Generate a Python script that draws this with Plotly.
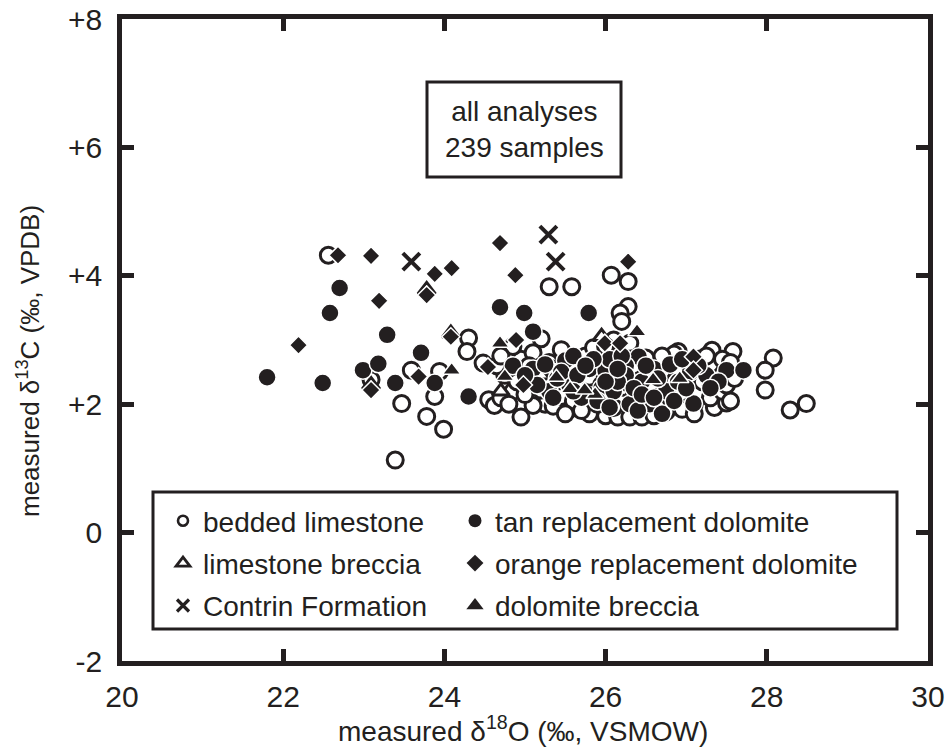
import plotly.graph_objects as go

# ---------------- data ----------------
bedded_x = [22.56, 24.30, 24.28, 24.48, 23.09, 23.59, 23.47, 23.94, 23.88, 23.78, 23.99, 23.39,
            24.55, 24.62, 24.95, 25.30, 25.58, 26.07, 26.28, 26.28, 26.18, 26.20, 26.90, 27.32,
            27.58, 28.08, 27.98, 27.98, 28.29, 28.49,
            25.55, 25.80, 26.00, 26.15, 26.30, 26.45, 26.60, 26.75, 26.95, 27.10, 27.35, 27.50,
            25.25, 25.10, 25.35,
            24.70, 24.85, 25.00, 25.20, 25.45, 25.60, 25.75, 25.90, 26.05, 26.20, 26.35, 26.50,
            26.65, 26.80, 26.95, 27.15, 27.30, 27.45, 27.55, 26.10, 25.70,
            24.75, 24.90, 25.05, 25.15, 25.35, 25.50, 25.65, 25.80, 25.95, 26.10, 26.25, 26.40,
            26.55, 26.70, 26.85, 27.00, 27.20, 27.35, 27.50, 27.40, 26.00, 25.25,
            24.65, 24.95, 25.10, 25.30, 25.45, 25.60, 25.75, 25.90, 26.05, 26.20, 26.35, 26.50,
            26.60, 26.75, 27.00, 27.15, 27.30, 27.45, 26.90, 25.35, 25.85, 26.30, 26.10, 25.20,
            24.85, 26.35, 27.25, 26.85,
            24.80, 25.05, 26.70, 27.60, 27.10, 25.50, 26.00, 24.70, 27.55]
bedded_y = [4.32, 3.03, 2.82, 2.64, 2.38, 2.53, 2.01, 2.51, 2.12, 1.81, 1.61, 1.13,
            2.07, 1.98, 1.80, 3.83, 3.83, 4.01, 3.91, 3.52, 3.42, 3.29, 2.82, 2.84,
            2.82, 2.72, 2.53, 2.22, 1.91, 2.01,
            1.92, 1.85, 1.82, 1.80, 1.80, 1.80, 1.82, 1.88, 1.92, 2.00, 1.95, 2.02,
            2.00, 1.98, 1.97,
            2.10, 2.20, 2.15, 2.22, 2.12, 2.05, 2.15, 2.00, 2.10, 2.02, 2.12, 2.00,
            2.05, 2.10, 2.18, 2.15, 2.10, 2.20, 2.05, 1.95, 1.90,
            2.45, 2.35, 2.40, 2.50, 2.35, 2.45, 2.32, 2.42, 2.30, 2.45, 2.35, 2.42,
            2.30, 2.45, 2.35, 2.40, 2.35, 2.42, 2.30, 2.50, 2.55, 2.30,
            2.60, 2.70, 2.80, 2.65, 2.85, 2.60, 2.75, 2.62, 2.80, 2.65, 2.60, 2.72,
            2.55, 2.65, 2.60, 2.70, 2.62, 2.70, 2.55, 2.55, 2.88, 2.95, 3.00, 3.02,
            2.90, 2.25, 2.75, 2.78,
            2.00, 2.60, 2.75, 2.40, 1.85, 1.85, 2.90, 2.75, 2.65]

tan_x = [22.70, 22.58, 23.29, 21.80, 22.49, 23.71, 22.99, 23.18, 23.39, 23.88, 24.30,
         24.69, 24.99, 25.79, 25.10, 26.41, 27.50, 27.71, 27.09,
         25.10, 25.25, 25.50, 25.60, 25.80, 26.00, 26.25, 25.30, 25.55, 25.70, 25.95, 26.10,
         26.30, 26.45, 26.60, 26.75, 26.90, 26.25, 26.55, 25.40, 26.05, 26.80, 27.05, 27.25,
         27.40, 25.15, 25.90, 26.40, 24.85, 25.00, 26.70, 26.15,
         25.45, 25.65, 25.85, 26.00, 26.20, 26.35, 26.50, 26.65, 26.85, 27.00,
         25.75, 26.15, 26.45, 25.60, 26.95, 27.30, 25.35, 26.60, 26.05, 27.15]
tan_y = [3.81, 3.42, 3.08, 2.42, 2.33, 2.80, 2.53, 2.63, 2.33, 2.33, 2.12,
         3.51, 3.42, 3.42, 3.13, 2.74, 2.53, 2.53, 2.01,
         2.55, 2.62, 2.68, 2.75, 2.55, 2.52, 2.60, 2.20, 2.30, 2.10, 2.25, 2.20,
         2.00, 2.35, 2.55, 2.20, 2.35, 2.45, 2.00, 2.40, 2.70, 2.62, 2.50, 2.45,
         2.35, 2.30, 2.05, 1.90, 2.60, 2.45, 1.85, 2.35,
         2.50, 2.45, 2.70, 2.35, 2.75, 2.25, 2.60, 2.40, 2.05, 2.25,
         2.60, 2.55, 2.15, 2.20, 2.70, 2.25, 2.10, 2.10, 1.95, 2.60]

lbrec_x = [23.78, 24.08, 23.09, 26.96, 25.95, 24.70, 27.10, 25.20]
lbrec_y = [3.78, 3.10, 2.30, 2.40, 3.05, 2.20, 2.60, 2.45]

orange_x = [22.68, 23.09, 23.88, 24.09, 23.78, 23.19, 22.19, 24.08, 23.09, 23.68,
            24.69, 24.88, 26.28, 24.89, 25.99, 26.18, 27.09, 27.09, 24.54, 24.98]
orange_y = [4.32, 4.31, 4.03, 4.12, 3.70, 3.61, 2.92, 3.05, 2.22, 2.43,
            4.51, 4.01, 4.22, 3.00, 2.95, 2.95, 2.74, 2.53, 2.58, 2.30]

contrin_x = [23.59, 25.29, 25.38]
contrin_y = [4.22, 4.64, 4.22]

dbrec_x = [24.09, 26.39, 24.69, 24.75, 25.39, 25.56, 25.87, 26.59, 26.92, 25.74]
dbrec_y = [2.53, 3.13, 2.95, 2.43, 2.42, 2.24, 2.15, 2.38, 2.40, 2.22]

x_ticks = [20, 22, 24, 26, 28, 30]
y_ticks = [-2, 0, 2, 4, 6, 8]
y_tick_labels = ["-2", "0", "+2", "+4", "+6", "+8"]

# ---------------- figure ----------------
INK = "#231f20"
FONT = "Liberation Sans, Arial, Helvetica, sans-serif"

fig = go.Figure()

# style per series: (name, x, y, symbol, plot size, fill, line colour, line width,
#                    legend size, legend line width, legend id, legend rank)
series = [
    ("bedded limestone", bedded_x, bedded_y, "circle", 16, "white", INK, 3, 10, 2.6, "legend", 1),
    ("limestone breccia", lbrec_x, lbrec_y, "triangle-up", 15, "white", INK, 3, 12, 2.8, "legend", 2),
    ("Contrin Formation", contrin_x, contrin_y, "x-thin", 17, INK, INK, 4, 12, 3.2, "legend", 3),
    ("tan replacement dolomite", tan_x, tan_y, "circle", 18, INK, "white", 1.5, 13, 0, "legend2", 1),
    ("orange replacement dolomite", orange_x, orange_y, "diamond", 14, INK, "white", 1.5, 13, 0, "legend2", 2),
    ("dolomite breccia", dbrec_x, dbrec_y, "triangle-up", 16, INK, "white", 1.5, 15, 0, "legend2", 3),
]

# data traces (no legend entries)
for name, xs, ys, sym, size, fill, lc, lw, _, _, _, _ in series:
    fig.add_trace(go.Scatter(
        x=xs, y=ys, mode="markers", name=name, showlegend=False,
        marker=dict(symbol=sym, size=size, color=fill, line=dict(color=lc, width=lw)),
        cliponaxis=False,
    ))

# legend-only entries (no data drawn), sized like the reference key
for name, _, _, sym, _, fill, lc, lw, lsize, llw, leg, rank in series:
    lcol = lc if llw > 0 else fill
    fig.add_trace(go.Scatter(
        x=[None], y=[None], mode="markers", name=name, legend=leg, legendrank=rank,
        legendgroup=name,
        marker=dict(symbol=sym, size=lsize, color=fill, line=dict(color=lcol, width=llw)),
    ))

L, R, T, B = 122, 18, 19, 92
PW, PH = 946 - L - R, 753 - T - B

def px(xp):
    return (xp - L) / PW

def py(yp):
    return (753 - B - yp) / PH

axis_common = dict(showline=True, linewidth=4.5, linecolor=INK, mirror="ticks",
                   ticks="inside", ticklen=12, tickwidth=4.5, tickcolor=INK,
                   showgrid=False, zeroline=False,
                   tickfont=dict(family=FONT, size=30, color=INK))

fig.update_xaxes(range=[20, 30], tickvals=x_ticks, ticktext=[str(v) for v in x_ticks],
                 ticklabelstandoff=5, **axis_common)
fig.update_yaxes(range=[-2, 8], tickvals=y_ticks, ticktext=y_tick_labels,
                 ticklabelstandoff=9, **axis_common)

shapes = [
    # legend box
    dict(type="rect", xref="paper", yref="paper", x0=px(153), x1=px(897), y0=py(629), y1=py(492),
         line=dict(color=INK, width=3), fillcolor="white", layer="below"),
    # info box
    dict(type="rect", xref="paper", yref="paper", x0=px(427), x1=px(621), y0=py(177), y1=py(82),
         line=dict(color=INK, width=3), fillcolor="white", layer="below"),
]

annotations = [
    dict(text="all analyses<br>239 samples", xref="paper", yref="paper", x=px(524), y=py(129),
         xanchor="center", yanchor="middle",
         showarrow=False, font=dict(family=FONT, size=28, color=INK), align="center"),
    dict(text="measured δ<sup>18</sup>O (‰, VSMOW)", xref="paper", yref="paper",
         x=px(523), y=py(729), xanchor="center", yanchor="middle",
         showarrow=False, font=dict(family=FONT, size=28, color=INK)),
    dict(text="measured δ<sup>13</sup>C (‰, VPDB)", xref="paper", yref="paper",
         x=px(29), y=py(361), xanchor="center", yanchor="middle", textangle=-90, showarrow=False,
         font=dict(family=FONT, size=26, color=INK)),
]

leg_common = dict(orientation="v", xanchor="left", yanchor="top",
                  itemsizing="trace", bgcolor="rgba(0,0,0,0)", borderwidth=0,
                  font=dict(family=FONT, size=28, color=INK), tracegroupgap=3)

fig.update_layout(
    width=946, height=753,
    margin=dict(l=L, r=R, t=T, b=B, autoexpand=False),
    plot_bgcolor="white", paper_bgcolor="white",
    shapes=shapes, annotations=annotations,
    showlegend=True,
    legend=dict(x=px(163), y=py(496), **leg_common),
    legend2=dict(x=px(455), y=py(496), **leg_common),
)

fig.write_html("out.html")
